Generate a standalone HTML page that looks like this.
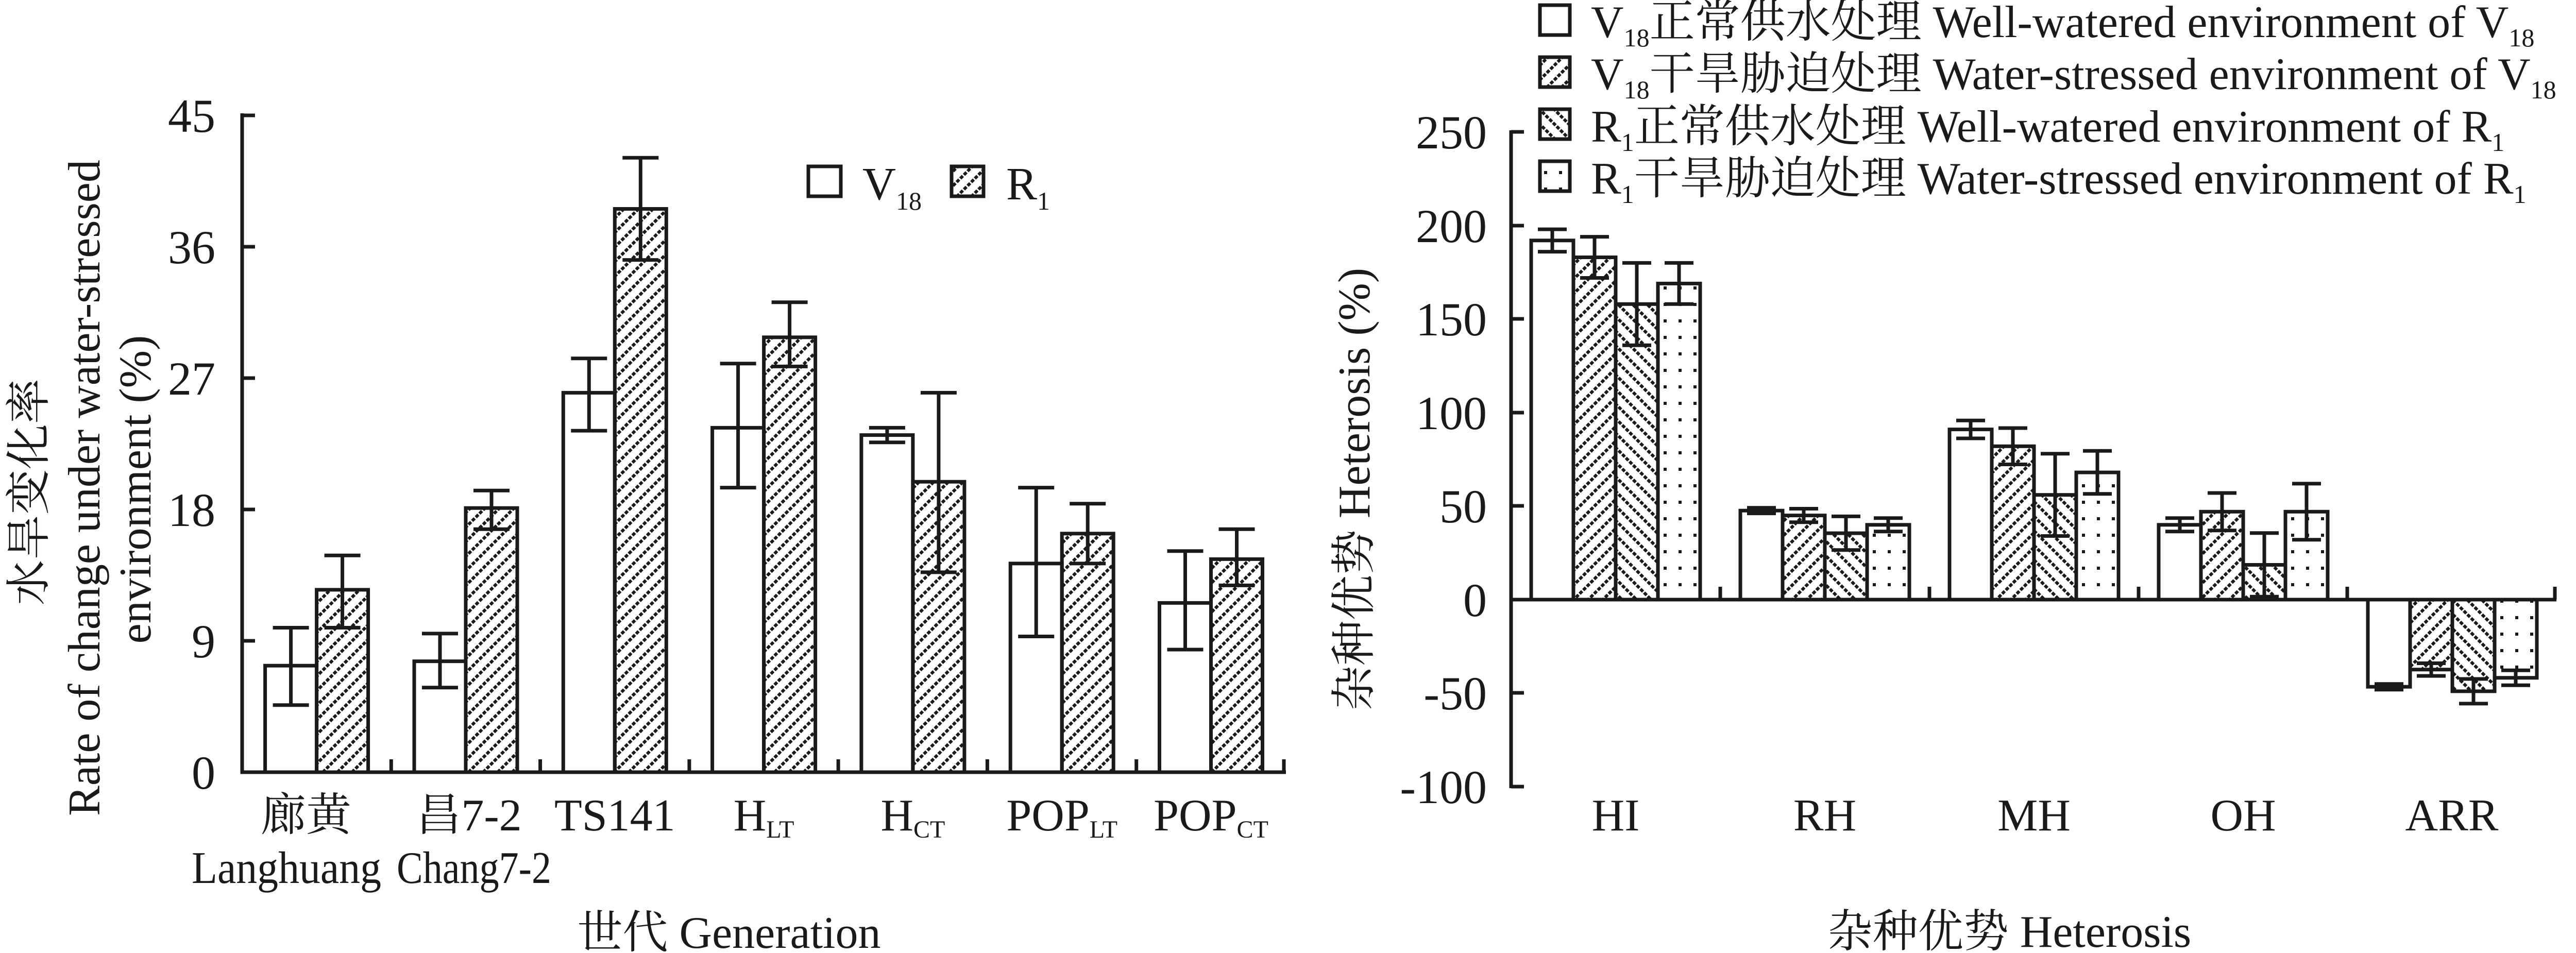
<!DOCTYPE html>
<html><head><meta charset="utf-8"><style>
html,body{margin:0;padding:0;background:#fff;}
svg{display:block;}
text{font-family:"Liberation Serif","Noto Serif CJK SC",serif;fill:#1a1a1a;}
</style></head><body>
<svg width="5009" height="1850" viewBox="0 0 5009 1850" xmlns="http://www.w3.org/2000/svg">
<defs>
<pattern id="fw" patternUnits="userSpaceOnUse" width="20" height="20" patternTransform="rotate(45)">
<rect x="0" y="0" width="6" height="7" fill="#1a1a1a"/><rect x="0" y="10" width="6" height="7" fill="#1a1a1a"/>
</pattern>
<pattern id="bw" patternUnits="userSpaceOnUse" width="20" height="20" patternTransform="rotate(-45)">
<rect x="0" y="0" width="6" height="7" fill="#1a1a1a"/><rect x="0" y="10" width="6" height="7" fill="#1a1a1a"/>
</pattern>
<pattern id="dt" patternUnits="userSpaceOnUse" width="29" height="32">
<rect x="10" y="12" width="6" height="6" fill="#1a1a1a"/>
</pattern>
</defs>

<!-- LEFT CHART -->
<g stroke="#1a1a1a" stroke-width="7" fill="none">
<rect x="514.6" y="1292.2" width="100" height="206.8" fill="#fff"/>
<rect x="614.6" y="1144.9" width="100" height="354.1" fill="url(#fw)"/>
<rect x="804" y="1283.7" width="100" height="215.3" fill="#fff"/>
<rect x="904" y="986.2" width="100" height="512.8" fill="url(#fw)"/>
<rect x="1093.3" y="762.4" width="100" height="736.6" fill="#fff"/>
<rect x="1193.3" y="405.5" width="100" height="1093.5" fill="url(#fw)"/>
<rect x="1382.6" y="830.4" width="100" height="668.6" fill="#fff"/>
<rect x="1482.6" y="654.8" width="100" height="844.2" fill="url(#fw)"/>
<rect x="1671.9" y="844.6" width="100" height="654.4" fill="#fff"/>
<rect x="1771.9" y="935.2" width="100" height="563.8" fill="url(#fw)"/>
<rect x="1961.2" y="1093.9" width="100" height="405.1" fill="#fff"/>
<rect x="2061.2" y="1035.8" width="100" height="463.2" fill="url(#fw)"/>
<rect x="2250.5" y="1170.4" width="100" height="328.6" fill="#fff"/>
<rect x="2350.5" y="1085.4" width="100" height="413.6" fill="url(#fw)"/>
</g>
<g stroke="#1a1a1a" stroke-width="7" fill="none">
<path d="M564.6 1218.5V1368.7M529.6 1218.5H599.6M529.6 1368.7H599.6"/>
<path d="M664.6 1078.3V1218.5M629.6 1078.3H699.6M629.6 1218.5H699.6"/>
<path d="M854 1229.9V1334.7M819 1229.9H889M819 1334.7H889"/>
<path d="M954 952.2V1027.3M919 952.2H989M919 1027.3H989"/>
<path d="M1143.3 695.8V836.1M1108.3 695.8H1178.3M1108.3 836.1H1178.3"/>
<path d="M1243.3 306.3V504.6M1208.3 306.3H1278.3M1208.3 504.6H1278.3"/>
<path d="M1432.6 705.8V946.6M1397.6 705.8H1467.6M1397.6 946.6H1467.6"/>
<path d="M1532.6 586.8V711.4M1497.6 586.8H1567.6M1497.6 711.4H1567.6"/>
<path d="M1721.9 830.4V858.7M1686.9 830.4H1756.9M1686.9 858.7H1756.9"/>
<path d="M1821.9 762.4V1110.9M1786.9 762.4H1856.9M1786.9 1110.9H1856.9"/>
<path d="M2011.2 946.6V1235.5M1976.2 946.6H2046.2M1976.2 1235.5H2046.2"/>
<path d="M2111.2 977.7V1093.9M2076.2 977.7H2146.2M2076.2 1093.9H2146.2"/>
<path d="M2300.5 1069.8V1261M2265.5 1069.8H2335.5M2265.5 1261H2335.5"/>
<path d="M2400.5 1027.3V1136.4M2365.5 1027.3H2435.5M2365.5 1136.4H2435.5"/>
<path d="M470 220V1499H2496"/>
<path d="M470 224H495M470 479H495M470 734H495M470 989H495M470 1244H495"/>
<path d="M759.3 1499V1474M1048.6 1499V1474M1337.9 1499V1474M1627.1 1499V1474M1916.4 1499V1474M2205.7 1499V1474M2492 1499V1474"/>
<rect x="1569" y="323" width="63" height="58" fill="#fff"/>
<rect x="1847" y="323" width="62" height="58" fill="url(#fw)"/>
</g>
<g font-size="92" text-anchor="end">
<text x="418" y="256">45</text>
<text x="418" y="511">36</text>
<text x="418" y="766">27</text>
<text x="418" y="1021">18</text>
<text x="418" y="1276">9</text>
<text x="418" y="1531">0</text>
</g>
<text x="1674" y="387" font-size="90">V<tspan font-size="50" dy="20">18</tspan></text>
<text x="1953" y="387" font-size="90">R<tspan font-size="50" dy="20">1</tspan></text>
<g font-size="88" text-anchor="middle">
<text x="594" y="1612">廊黄</text>
<text x="910" y="1612">昌7-2</text>
<text x="1193.3" y="1612">TS141</text>
<text x="1482.6" y="1612">H<tspan font-size="48" dy="14">LT</tspan></text>
<text x="1771.9" y="1612">H<tspan font-size="48" dy="14">CT</tspan></text>
<text x="2061.2" y="1612">POP<tspan font-size="48" dy="14">LT</tspan></text>
<text x="2350.5" y="1612">POP<tspan font-size="48" dy="14">CT</tspan></text>
<text x="556" y="1714" textLength="368" lengthAdjust="spacingAndGlyphs">Langhuang</text>
<text x="920" y="1714" textLength="300" lengthAdjust="spacingAndGlyphs">Chang7-2</text>
<text x="1415" y="1840">世代 Generation</text>
</g>
<g font-size="88" text-anchor="middle">
<text transform="translate(86,955) rotate(-90)">水旱变化率</text>
<text transform="translate(193,947) rotate(-90)">Rate of change under water-stressed</text>
<text transform="translate(292,950) rotate(-90)">environment (%)</text>
</g>

<!-- RIGHT CHART -->
<g stroke="#1a1a1a" stroke-width="7">
<rect x="2972" y="466.8" width="82" height="697.2" fill="#fff"/>
<rect x="3054" y="499.5" width="82" height="664.5" fill="url(#fw)"/>
<rect x="3136" y="590.3" width="82" height="573.7" fill="url(#bw)"/>
<rect x="3218" y="550.4" width="82" height="613.6" fill="url(#dt)"/>
<rect x="3378" y="991.2" width="82" height="172.8" fill="#fff"/>
<rect x="3460" y="1000.6" width="82" height="163.4" fill="url(#fw)"/>
<rect x="3542" y="1035.1" width="82" height="128.9" fill="url(#bw)"/>
<rect x="3624" y="1018.8" width="82" height="145.2" fill="url(#dt)"/>
<rect x="3784" y="833.6" width="82" height="330.4" fill="#fff"/>
<rect x="3866" y="866.3" width="82" height="297.7" fill="url(#fw)"/>
<rect x="3948" y="960.7" width="82" height="203.3" fill="url(#bw)"/>
<rect x="4030" y="917.1" width="82" height="246.9" fill="url(#dt)"/>
<rect x="4190" y="1018.8" width="82" height="145.2" fill="#fff"/>
<rect x="4272" y="993.3" width="82" height="170.7" fill="url(#fw)"/>
<rect x="4354" y="1096.5" width="82" height="67.5" fill="url(#bw)"/>
<rect x="4436" y="993.3" width="82" height="170.7" fill="url(#dt)"/>
<rect x="4596" y="1164" width="82" height="169.2" fill="#fff"/>
<rect x="4678" y="1164" width="82" height="135.8" fill="url(#fw)"/>
<rect x="4760" y="1164" width="82" height="177.9" fill="url(#bw)"/>
<rect x="4842" y="1164" width="82" height="151.8" fill="url(#dt)"/>
</g>
<g stroke="#1a1a1a" stroke-width="7" fill="none">
<path d="M3013 445.1V488.6M2985 445.1H3041M2985 488.6H3041"/>
<path d="M3095 459.6V539.5M3067 459.6H3123M3067 539.5H3123"/>
<path d="M3177 510.4V670.2M3149 510.4H3205M3149 670.2H3205"/>
<path d="M3259 510.4V590.3M3231 510.4H3287M3231 590.3H3287"/>
<path d="M3419 985.7V996.6M3391 985.7H3447M3391 996.6H3447"/>
<path d="M3501 987.5V1013.7M3473 987.5H3529M3473 1013.7H3529"/>
<path d="M3583 1002.4V1067.8M3555 1002.4H3611M3555 1067.8H3611"/>
<path d="M3665 1005.7V1031.8M3637 1005.7H3693M3637 1031.8H3693"/>
<path d="M3825 816.2V851M3797 816.2H3853M3797 851H3853"/>
<path d="M3907 831V901.5M3879 831H3935M3879 901.5H3935"/>
<path d="M3989 880.8V1040.5M3961 880.8H4017M3961 1040.5H4017"/>
<path d="M4071 875.3V958.8M4043 875.3H4099M4043 958.8H4099"/>
<path d="M4231 1005.7V1031.8M4203 1005.7H4259M4203 1031.8H4259"/>
<path d="M4313 957V1029.7M4285 957H4341M4285 1029.7H4341"/>
<path d="M4395 1034.7V1158.2M4367 1034.7H4423M4367 1158.2H4423"/>
<path d="M4477 938.9V1047.8M4449 938.9H4505M4449 1047.8H4505"/>
<path d="M4637 1327.8V1338.7M4609 1327.8H4665M4609 1338.7H4665"/>
<path d="M4719 1287.5V1312.1M4691 1287.5H4747M4691 1312.1H4747"/>
<path d="M4801 1318V1365.9M4773 1318H4829M4773 1365.9H4829"/>
<path d="M4883 1301.3V1330.3M4855 1301.3H4911M4855 1330.3H4911"/>
<path d="M2933 253V1530"/>
<path d="M2933 256H2958M2933 438H2958M2933 619H2958M2933 801H2958M2933 982H2958M2933 1345H2958M2933 1527H2958"/>
<path d="M2933 1164H4962"/>
<path d="M3339 1164V1139M3745 1164V1139M4151 1164V1139M4556 1164V1139M4959 1164V1139"/>
<rect x="2989" y="10" width="58" height="58" fill="#fff"/>
<rect x="2989" y="111" width="58" height="58" fill="url(#fw)"/>
<rect x="2989" y="212" width="58" height="58" fill="url(#bw)"/>
<rect x="2989" y="313" width="58" height="58" fill="url(#dt)"/>
</g>
<g font-size="92" text-anchor="end">
<text x="2886" y="288">250</text>
<text x="2886" y="470">200</text>
<text x="2886" y="651">150</text>
<text x="2886" y="833">100</text>
<text x="2886" y="1014">50</text>
<text x="2886" y="1196">0</text>
<text x="2886" y="1377">-50</text>
<text x="2886" y="1559">-100</text>
</g>
<g font-size="88" text-anchor="middle">
<text x="3136" y="1612">HI</text>
<text x="3542" y="1612">RH</text>
<text x="3948" y="1612">MH</text>
<text x="4354" y="1612">OH</text>
<text x="4759" y="1612">ARR</text>
<text x="3900" y="1838">杂种优势 Heterosis</text>
</g>
<text font-size="88" text-anchor="middle" transform="translate(2658,950) rotate(-90)">杂种优势 Heterosis (%)</text>
<g font-size="88">
<text x="3088" y="72">V<tspan font-size="50" dy="18">18</tspan><tspan dy="-18">正常供水处理 Well-watered environment of V</tspan><tspan font-size="50" dy="18">18</tspan></text>
<text x="3088" y="173">V<tspan font-size="50" dy="18">18</tspan><tspan dy="-18">干旱胁迫处理 Water-stressed environment of V</tspan><tspan font-size="50" dy="18">18</tspan></text>
<text x="3088" y="275">R<tspan font-size="50" dy="18">1</tspan><tspan dy="-18">正常供水处理 Well-watered environment of R</tspan><tspan font-size="50" dy="18">1</tspan></text>
<text x="3088" y="376">R<tspan font-size="50" dy="18">1</tspan><tspan dy="-18">干旱胁迫处理 Water-stressed environment of R</tspan><tspan font-size="50" dy="18">1</tspan></text>
</g>
</svg>
</body></html>
